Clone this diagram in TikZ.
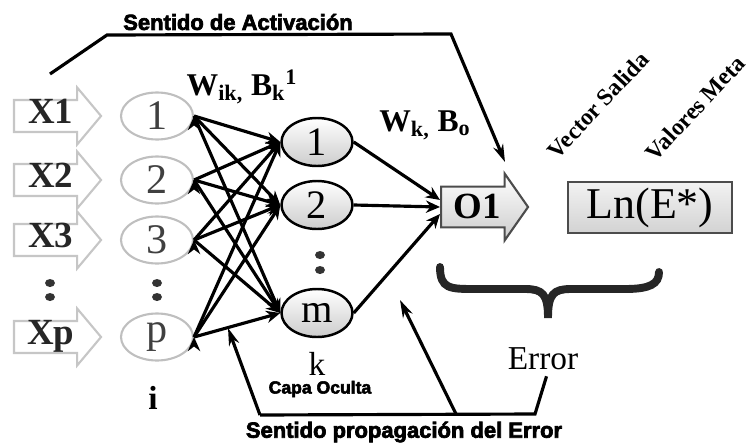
\documentclass[tikz,border=0pt]{standalone}
\usepackage{fontspec}
\setmainfont{Liberation Serif}
\setsansfont{Liberation Sans}
\newfontfamily\blacksans{Liberation Sans}[UprightFont={* Bold}, FakeBold=3]
\usetikzlibrary{shapes.geometric,shapes.arrows,arrows.meta}

\begin{document}
\begin{tikzpicture}
[
	inArrow/.style={single arrow, draw=gray!45, line width=1.2pt, fill=white, single arrow head extend=0.25cm, single arrow tip angle=100, minimum height=1.74cm, inner xsep=2pt, inner ysep=1pt, text height=12pt, text depth=3pt, anchor=tail, font=\fontsize{21}{21}\selectfont\bfseries, text=black!85},
	inNode/.style={ellipse, draw=gray!50, line width=1.2pt, minimum width=1.44cm, minimum height=0.94cm, inner sep=0pt, font=\fontsize{24}{24}\selectfont, text=black!75},
	hidNode/.style={ellipse, draw=black, line width=1.4pt, top color=white, bottom color=gray!40, minimum width=1.42cm, minimum height=0.96cm, inner sep=0pt, font=\fontsize{23}{23}\selectfont},
	outArrow/.style={single arrow, draw=black!70, line width=1.2pt, top color=white, bottom color=gray!40, single arrow head extend=0.26cm, single arrow tip angle=110, minimum height=1.74cm, inner xsep=3pt, inner ysep=3.5pt, text height=14pt, text depth=1pt, anchor=tail, font=\fontsize{21}{21}\selectfont\bfseries},
	goalBox/.style={rectangle, draw=black!70, line width=1.2pt, top color=gray!10, bottom color=gray!35, minimum width=3.28cm, minimum height=0.9cm, font=\fontsize{25}{25}\selectfont},
	myConn/.style={line width=1.8pt, -{Stealth[length=8pt,width=7pt]}},
	myFlow/.style={line width=1.8pt, -{Stealth[length=10pt,width=6pt]}},
	headLabel/.style={font=\blacksans\fontsize{12.5}{12.5}\selectfont},
	weights/.style={font=\bfseries\fontsize{18}{18}\selectfont}
]

\useasboundingbox (0,0) rectangle (15.04,8.88);
\def\bigDot{ellipse (0.1cm and 0.08cm)}

% Input vector
\node[inArrow] (x1) at (0.26,6.56) {X1};
\node[inArrow] (x2) at (0.26,5.28) {X2};
\node[inArrow] (x3) at (0.26,4.08) {X3};
\node[inArrow] (xp) at (0.26,2.14) {Xp};

% Input layer
\node[inNode] (i1) at (3.14,6.56) {1};
\node[inNode] (i2) at (3.14,5.28) {2};
\node[inNode] (i3) at (3.14,4.08) {3};
\node[inNode] (ip) at (3.14,2.14) {p};

% Hidden layer
\node[hidNode] (h1) at (6.34,6.04) {1};
\node[hidNode] (h2) at (6.34,4.78) {2};
\node[hidNode] (hm) at (6.34,2.62) {m};

% Output and target
\node[outArrow] (o1) at (8.8,4.74) {O1};
\node[goalBox] (ln) at (13.0,4.73) {Ln(E*)};

% Dots between rows
\fill[black!80] (1.0,3.22) \bigDot (1.0,2.94) \bigDot;
\fill[black!80] (3.14,3.22) \bigDot (3.14,2.94) \bigDot;
\fill[black!80] (6.4,3.78) \bigDot (6.4,3.48) \bigDot;

% Labels
\node[headLabel] (act) at (4.76,8.44) {Sentido de Activación};
\node[headLabel] (prop) at (8.08,0.24) {Sentido propagación del Error};
\node[font=\blacksans\fontsize{10}{10}\selectfont] (capa) at (6.4,1.1) {Capa Oculta};
\node[weights] (wik) at (4.84,7.14) {W\textsubscript{ik,} B\textsubscript{k}\textsuperscript{1}};
\node[weights] (wk) at (8.5,6.38) {W\textsubscript{k,} B\textsubscript{o}};
\node[rotate=47, font=\bfseries\fontsize{13.5}{13.5}\selectfont] (vs) at (11.96,6.78) {Vector Salida};
\node[rotate=47, font=\bfseries\fontsize{13.5}{13.5}\selectfont] (vm) at (13.9,6.72) {Valores Meta};
\node[font=\bfseries\fontsize{19}{19}\selectfont] (li) at (3.06,0.92) {i};
\node[font=\fontsize{19}{19}\selectfont] (lk) at (6.34,1.6) {k};
\node[font=\fontsize{19}{19}\selectfont] (err) at (10.86,1.7) {Error};

% Draw input to hidden connections
\draw[myConn] (i1.east) edge (h1.west) edge (h2.west) edge (hm.west);
\draw[myConn] (i2.east) edge (h1.west) edge (h2.west) edge (hm.west);
\draw[myConn] (i3.east) edge (h1.west) edge (h2.west) edge (hm.west);
\draw[myConn] (ip.east) edge (h1.west) edge (h2.west) edge (hm.west);

% Draw hidden to output connections
\draw[myConn] (h1.east) -- ([yshift=4pt]o1.tail);
\draw[myConn] (h2.east) -- (o1.tail);
\draw[myConn] (hm.east) -- ([yshift=-4pt]o1.tail);

% Activation direction
\coordinate (actStart) at (1.0,7.4);
\coordinate (actEnd) at (10.1,5.64);
\draw[myFlow] (actStart) -- (2.14,8.18) -- (9.02,8.2) -- (actEnd);

% Error brace
\draw[line width=4.5pt, black!85, line cap=round] (8.8,3.54) .. controls (8.8,3.1) and (9.0,3.1) .. (9.5,3.1) -- (10.5,3.1) .. controls (10.85,3.1) and (10.96,3.0) .. (10.96,2.52) .. controls (10.96,3.0) and (11.07,3.1) .. (11.42,3.1) -- (12.5,3.1) .. controls (13.0,3.1) and (13.18,3.2) .. (13.18,3.44);

% Error propagation direction
\coordinate (errFoot) at (10.7,0.6);
\coordinate (propLeft) at (5.2,0.58);
\coordinate (propMid) at (9.12,0.6);
\coordinate (tipHid) at (4.56,2.32);
\coordinate (tipOut) at (8.0,2.88);
\draw[line width=1.8pt] ([xshift=2pt]err.south) -- (errFoot) -- (propLeft);
\draw[myFlow] (propLeft) -- (tipHid);
\draw[myFlow] (propMid) -- (tipOut);

\end{tikzpicture}
\end{document}
